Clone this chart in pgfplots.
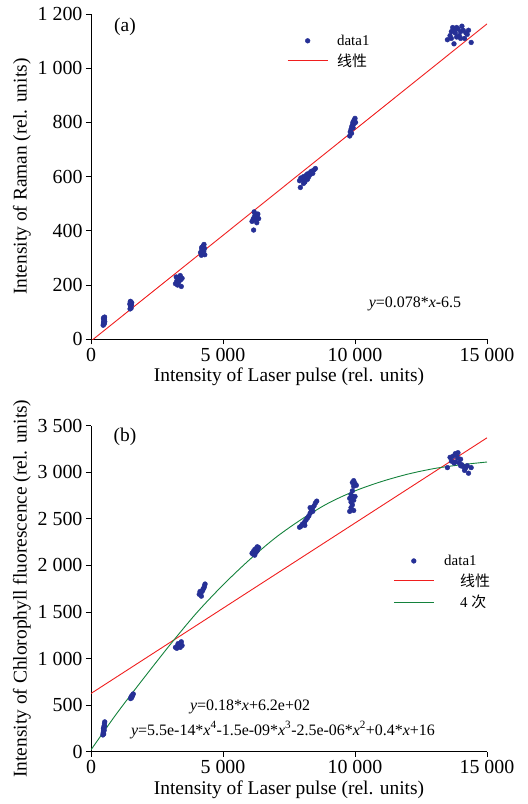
\documentclass[border=0pt]{standalone}
\usepackage{pgfplots}
\pgfplotsset{compat=1.18}
\usepackage{fontspec}
\setmainfont{Liberation Serif}
\newfontfamily\cjk{Noto Sans CJK SC}

\definecolor{dotblue}{RGB}{38,48,150}
\definecolor{fitred}{RGB}{240,30,30}
\definecolor{fitgreen}{RGB}{20,130,60}

\pgfplotsset{
  panel/.style={
    scale only axis, width=396bp,
    xmin=0, xmax=15000, ymin=0,
    axis lines=left,
    axis line style={-, line width=0.8bp},
    tick style={line width=0.8bp, black},
    tick align=outside,
    major tick length=5bp,
    xtick={0,5000,10000,15000},
    scaled x ticks=false, scaled y ticks=false,
    tick label style={font=\fontsize{20}{20}\selectfont},
    label style={font=\fontsize{19.5}{20}\selectfont},
    /pgf/number format/1000 sep={\hspace{0.25em}},
    /pgf/number format/assume math mode=true,
    xlabel={Intensity of Laser pulse (rel. units)},
    legend cell align=left,
    legend style={draw=none, fill=none, inner sep=0pt, anchor=north west,
      font=\fontsize{15}{15}\selectfont, row sep=3bp},
  },
  dots/.style={only marks, mark=*, mark size=2.4bp, color=dotblue,
    legend image code/.code={\draw[mark repeat=2,mark phase=2,##1]
      plot coordinates {(0bp,0bp) (20bp,0bp) (40bp,0bp)};}},
  fit/.style={line width=0.9bp,
    legend image code/.code={\draw[##1] (0bp,0bp) -- (40bp,0bp);}},
}

\begin{document}
\begin{tikzpicture}
\useasboundingbox (0,0) rectangle (528bp,804bp);

% panel (a)
\begin{axis}[panel,
  at={(91bp,464.7bp)}, anchor=south west,
  height=325.3bp, ymax=1200,
  ytick={0,200,400,600,800,1000,1200},
  ylabel={Intensity of Raman (rel. units)},
  legend style={at={(0.495,0.9425)}},
]
\addplot[dots] coordinates {
  (460,52) (470,60) (480,68) (490,75) (500,80) (510,72) (520,65) (500,58)
  (490,55) (515,82) (470,78) (505,66) (485,62)
  (1480,112) (1500,118) (1520,125) (1510,132) (1490,138) (1530,128)
  (1500,122) (1470,130) (1520,115) (1540,135) (1495,140)
  (3200,205) (3250,215) (3300,225) (3350,230) (3400,220) (3450,225)
  (3320,210) (3380,235) (3280,200) (3420,195) (3230,230) (3360,218)
  (4150,320) (4180,310) (4200,330) (4220,340) (4250,345) (4280,350)
  (4300,335) (4230,315) (4270,325) (4190,338) (4310,312)
  (6100,435) (6150,445) (6200,455) (6250,460) (6300,450) (6350,445)
  (6180,470) (6230,440) (6280,430) (6160,403) (6320,462) (6210,448)
  (7900,585) (7950,595) (8000,590) (8050,600) (8100,580) (8150,605)
  (8200,610) (8250,600) (8300,615) (8350,620) (8400,612) (8450,625)
  (8500,630) (8100,598) (8200,590) (7930,560) (8050,575) (8300,608)
  (9800,750) (9820,765) (9850,775) (9880,785) (9900,790) (9920,800)
  (9950,805) (9980,810) (10000,815) (10020,800) (9870,760) (9930,780) (9960,795)
  (13500,1105) (13600,1120) (13650,1135) (13700,1150) (13750,1140)
  (13800,1130) (13850,1150) (13900,1145) (13950,1120) (14000,1135)
  (14050,1155) (14100,1140) (14150,1110) (14200,1130) (14250,1125)
  (14300,1140) (14400,1095) (13750,1090) (13850,1115) (14000,1110) (13650,1110)
};
\addlegendentry{\hspace*{7bp}data1}
\addplot[fit, color=fitred] coordinates {(0,-6.5) (15000,1163.5)};
\addlegendentry{\hspace*{7bp}{\cjk 线性}}
\node[font=\fontsize{19.5}{20}\selectfont] at (axis cs:1288,1152) {(a)};
\node[font=\fontsize{16}{16}\selectfont] at (axis cs:12273,130)
  {\textit{y}=0.078*\textit{x}-6.5};
\end{axis}

% panel (b)
\begin{axis}[panel,
  at={(91bp,52.3bp)}, anchor=south west,
  height=326bp, ymax=3500,
  ytick={0,500,1000,1500,2000,2500,3000,3500},
  ylabel={Intensity of Chlorophyll fluorescence (rel. units)},
  legend style={at={(0.763,0.61)}},
]
\addplot[dots] coordinates {
  (450,180) (460,200) (470,220) (480,240) (490,260) (500,280) (510,300)
  (520,320) (500,230) (480,190) (510,270) (470,250)
  (1500,570) (1520,590) (1550,600) (1580,610) (1540,580) (1600,620) (1560,595)
  (3200,1120) (3250,1110) (3300,1130) (3350,1150) (3400,1170) (3450,1140)
  (3300,1160) (3380,1120) (3420,1180) (3280,1140)
  (4100,1690) (4150,1700) (4200,1720) (4250,1750) (4300,1780) (4320,1800)
  (4180,1670) (4230,1730) (4280,1760) (4130,1720)
  (6100,2130) (6150,2150) (6200,2170) (6250,2180) (6300,2200) (6350,2190)
  (6200,2110) (6250,2140) (6300,2160) (6150,2120)
  (7900,2410) (7950,2420) (8000,2440) (8050,2450) (8100,2470) (8150,2490)
  (8200,2510) (8250,2530) (8300,2560) (8350,2590) (8400,2620) (8450,2640)
  (8500,2670) (8550,2690) (8300,2620) (8400,2580) (8100,2430)
  (9800,2580) (9850,2620) (9900,2650) (9950,2700) (9800,2720) (9850,2760)
  (9900,2800) (9950,2850) (9900,2890) (9950,2910) (10000,2880) (10050,2860)
  (9950,2590) (10000,2740) (9850,2680) (9900,2740)
  (13500,3050) (13600,3160) (13650,3120) (13700,3170) (13750,3100)
  (13800,3200) (13850,3180) (13900,3150) (13950,3100) (14000,3140)
  (14050,3080) (14100,3060) (14150,3020) (14200,3050) (14250,3070)
  (14300,2990) (14400,3050) (13800,3110) (13900,3210) (14000,3070)
};
\addlegendentry{\hspace*{8bp}data1}
\addplot[fit, color=fitred] coordinates {(0,625) (15000,3370)};
\addlegendentry{\hspace*{24bp}{\cjk 线性}}
\addplot[fit, color=fitgreen, smooth] coordinates {
  (0,20) (1000,420) (2000,790) (3000,1150) (4000,1490) (5000,1790)
  (6000,2060) (7000,2300) (8000,2500) (9000,2670) (10000,2800)
  (11000,2900) (12000,2980) (13000,3040) (14000,3080) (15000,3110)
};
\addlegendentry{\hspace*{24bp}4 {\cjk 次}}
\node[font=\fontsize{19.5}{20}\selectfont] at (axis cs:1288,3382) {(b)};
\node[font=\fontsize{16}{16}\selectfont] at (axis cs:6023,483)
  {\textit{y}=0.18*\textit{x}+6.2e+02};
\node[font=\fontsize{16}{16}\selectfont] at (axis cs:7273,233)
  {\textit{y}=5.5e-14*\textit{x}\textsuperscript{4}-1.5e-09*\textit{x}\textsuperscript{3}-2.5e-06*\textit{x}\textsuperscript{2}+0.4*\textit{x}+16};
\end{axis}
\end{tikzpicture}
\end{document}
